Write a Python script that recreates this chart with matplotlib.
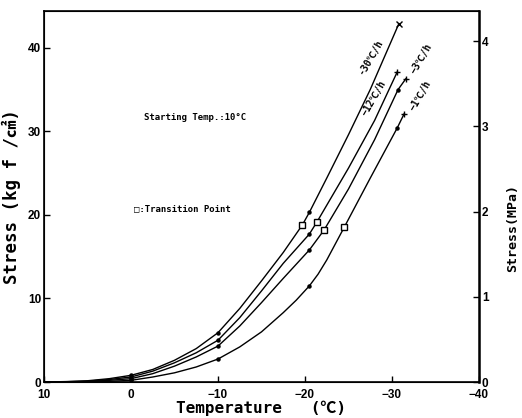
import numpy as np
import matplotlib
matplotlib.use('Agg')
import matplotlib.pyplot as plt

plt.rcParams['font.family'] = ['DejaVu Sans Mono', 'Noto Sans CJK JP']

# curves: temperature (C) and stress (kgf/cm2)
t_30 = [10, 7.5, 5, 2.5, 0, -2.5, -5, -7.5, -10, -12.5, -15, -17.5, -19.7, -20.5, -22.5, -25, -27.5, -30.8]
s_30 = [0, 0.05, 0.15, 0.4, 0.8, 1.5, 2.6, 4.0, 5.9, 8.8, 12.1, 15.5, 18.8, 20.3, 24.4, 29.6, 35.0, 42.9]
t_12 = [10, 7.5, 5, 2.5, 0, -2.5, -5, -7.5, -10, -12.5, -15, -17.5, -20.5, -21.4, -25, -28, -30.6]
s_12 = [0, 0.03, 0.1, 0.3, 0.6, 1.3, 2.3, 3.5, 5.0, 7.7, 10.9, 14.2, 17.7, 19.2, 25.6, 31.3, 37.1]
t_3 = [10, 7.5, 5, 2.5, 0, -2.5, -5, -7.5, -10, -12.5, -15, -17.5, -20.5, -22.2, -25, -28, -30.7, -31.6]
s_3 = [0, 0.02, 0.05, 0.2, 0.4, 1.0, 1.9, 3.0, 4.3, 6.7, 9.5, 12.4, 15.8, 18.2, 23.1, 29.0, 35.0, 36.3]
t_1 = [10, 7.5, 5, 2.5, 0, -2.5, -5, -7.5, -10, -12.5, -15, -17.5, -19, -20.5, -21.5, -22.5, -24.5, -27.5, -30.6, -31.4]
s_1 = [0, 0, 0.02, 0.08, 0.2, 0.6, 1.1, 1.8, 2.75, 4.2, 6.0, 8.3, 9.8, 11.5, 12.9, 14.6, 18.5, 24.4, 30.4, 32.1]

# measured points (dots), transition points (squares)
dot_t = [[0, -10, -20.5], [0, -10, -20.5], [0, -10, -20.5, -30.7], [0, -10, -20.5, -30.6]]
trans_t = [-19.7, -21.4, -22.2, -24.5]
trans_s = [18.8, 19.2, 18.2, 18.6]
end_marker = ['x', '+', '+', '+']
rate_labels = ['-30℃/h', '−12℃/h', '−3℃/h', '−1℃/h']

curves = [(t_30, s_30), (t_12, s_12), (t_3, s_3), (t_1, s_1)]

fig = plt.figure(figsize=(5.22, 4.18), dpi=100)
ax = fig.add_axes([0.0843, 0.0861, 0.8333, 0.8876])

for i, (t, s) in enumerate(curves):
    ax.plot(t, s, color='black', lw=1.0)
    ds = np.interp(-np.array(dot_t[i]), -np.array(t), np.array(s))
    ax.plot(dot_t[i], ds, 'o', color='black', ms=2.2)
    ax.plot(t[-1], s[-1], end_marker[i], color='black', ms=5, mew=1)
ax.plot(trans_t, trans_s, 's', mfc='white', mec='black', ms=5, mew=1)

# rate labels along the curves
lab_pos = [(-27.6, 38.9), (-27.9, 34.0), (-33.4, 38.7), (-33.3, 34.3)]
for (tx, ty), lab in zip(lab_pos, rate_labels):
    ax.text(tx, ty, lab, rotation=60, fontsize=7, fontweight='bold',
            ha='center', va='center')

ax.text(-7.4, 31.7, 'Starting Temp.:10°C', fontsize=6.5, fontweight='bold',
        ha='center', va='center')
ax.text(-0.4, 20.7, '□:Transition Point', fontsize=6.5, fontweight='bold',
        ha='left', va='center')

ax.set_xlim(10, -40)
ax.set_ylim(0, 44.4)
ax.set_xticks([10, 0, -10, -20, -30, -40])
ax.set_xticklabels(['10', '0', '−10', '−20', '−30', '−40'])
ax.set_yticks([0, 10, 20, 30, 40])
ax.tick_params(direction='in', length=4, width=1, labelsize=8.5, pad=2)
ax.tick_params(axis='x', pad=5)
for lab in ax.get_xticklabels() + ax.get_yticklabels():
    lab.set_fontweight('bold')
    lab.set_family(['Liberation Sans', 'DejaVu Sans'])
ax.set_xlabel('Temperature   (℃)', fontsize=11.5, fontweight='bold', labelpad=0)
ax.set_ylabel('Stress (kg f /㎠)', fontsize=12.5, fontweight='bold', labelpad=5)

ax2 = ax.twinx()
ax2.set_ylim(0, 44.4 * 0.0981)
ax2.set_yticks([0, 1, 2, 3, 4])
ax2.tick_params(direction='in', length=4, width=1, labelsize=8.5, pad=2)
for lab in ax2.get_yticklabels():
    lab.set_fontweight('bold')
    lab.set_family(['Liberation Sans', 'DejaVu Sans'])
ax2.set_ylabel('Stress(MPa)', fontsize=9.5, fontweight='bold')
ax2.yaxis.set_label_coords(1.062, 0.415)
for sp in ax2.spines.values():
    sp.set_linewidth(1.2)
ax2.spines['right'].set_linewidth(1.8)

fig.savefig('out.png', dpi=100)
